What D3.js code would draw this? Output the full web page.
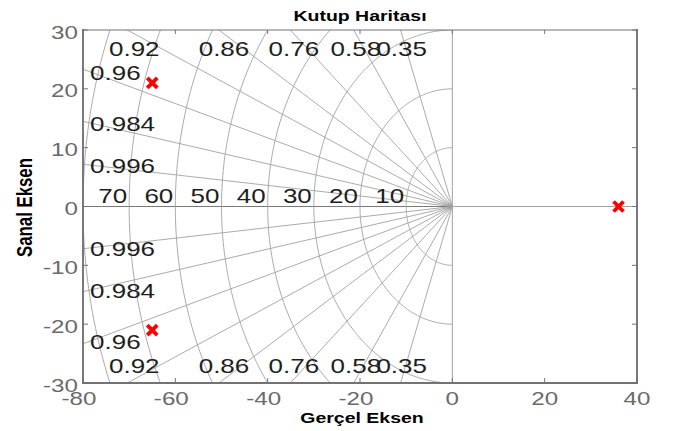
<!DOCTYPE html>
<html>
<head>
<meta charset="utf-8">
<script src="https://cdn.jsdelivr.net/npm/d3@7"></script>
<style>
  html, body { margin: 0; padding: 0; background: #fff; }
  svg { display: block; }
  text { font-family: "Liberation Sans", Arial, Helvetica, sans-serif; }
</style>
</head>
<body>
<svg id="chart" width="674" height="431"></svg>
<script>
// Pole locations of the system (real and imaginary parts)
const poleRe = [-65, -65, 36];
const poleIm = [21, -21, 0];

// Damping ratio rays and natural frequency circles of the s-plane grid
const zetaValues = [0.35, 0.58, 0.76, 0.86, 0.92, 0.96, 0.984, 0.996];
const wnValues = [10, 20, 30, 40, 50, 60, 70, 80];
const wnLabelValues = [10, 20, 30, 40, 50, 60, 70];

// Axis ticks
const xTicks = [-80, -60, -40, -20, 0, 20, 40];
const yTicks = [-30, -20, -10, 0, 10, 20, 30];

const titleText = "Kutup Haritası";
const xLabelText = "Gerçel Eksen";
const yLabelText = "Sanal Eksen";

const plot = { left: 83, right: 637, top: 30, bottom: 383 };
const SX = 1.3; // horizontal stretch applied to glyphs

const svg = d3.select("#chart");
const x = d3.scaleLinear().domain([-80, 40]).range([plot.left, plot.right]);
const y = d3.scaleLinear().domain([-30, 30]).range([plot.bottom, plot.top]);

function label(g, str, px, py, o) {
  o = o || {};
  return g.append("text")
    .attr("transform", `translate(${px},${py}) scale(${o.sx || SX},1)`)
    .attr("text-anchor", o.anchor || "middle")
    .attr("font-size", o.size || 20)
    .attr("font-weight", o.weight || "normal")
    .attr("fill", o.fill || "#1e1e1e")
    .text(str);
}

svg.append("defs").append("clipPath").attr("id", "plotClip")
  .append("rect")
  .attr("x", plot.left).attr("y", plot.top)
  .attr("width", plot.right - plot.left).attr("height", plot.bottom - plot.top);

const grid = svg.append("g").attr("clip-path", "url(#plotClip)");
const gridColor = "#a2a2a2";

// Real and imaginary axes through the origin
grid.append("line")
  .attr("x1", plot.left).attr("x2", plot.right)
  .attr("y1", y(0)).attr("y2", y(0))
  .attr("stroke", gridColor).attr("stroke-width", 1);
grid.append("line")
  .attr("x1", x(0)).attr("x2", x(0))
  .attr("y1", plot.top).attr("y2", plot.bottom)
  .attr("stroke", gridColor).attr("stroke-width", 1);
// zeta = 1 along the negative real axis
grid.append("line")
  .attr("x1", x(-200)).attr("x2", x(0))
  .attr("y1", y(0)).attr("y2", y(0))
  .attr("stroke", "#7a7a7a").attr("stroke-width", 1);

// Constant damping rays
const R = 300;
zetaValues.forEach(z => {
  const s = Math.sqrt(1 - z * z);
  [1, -1].forEach(sign => {
    grid.append("line")
      .attr("x1", x(0)).attr("y1", y(0))
      .attr("x2", x(-z * R)).attr("y2", y(sign * s * R))
      .attr("stroke", gridColor).attr("stroke-width", 0.9);
  });
});

// Constant natural frequency semicircles in the left half-plane
const arcLine = d3.line().x(d => x(d[0])).y(d => y(d[1]));
wnValues.forEach(wn => {
  const pts = d3.range(0, 181).map(i => {
    const a = Math.PI / 2 + (i / 180) * Math.PI;
    return [wn * Math.cos(a), wn * Math.sin(a)];
  });
  grid.append("path").attr("d", arcLine(pts))
    .attr("fill", "none").attr("stroke", gridColor).attr("stroke-width", 0.9);
});

// Damping labels: rays leaving through the top/bottom edge get a label centred
// on the ray just inside that edge, the others a label along the left edge on the ray
const gl = svg.append("g");
zetaValues.forEach(z => {
  const s = Math.sqrt(1 - z * z);
  const slope = s / z;
  const str = String(z);
  if (slope * 80 > 30) {
    const xe = -29.35 / slope;
    label(gl, str, x(xe), plot.top + 25.5);
    label(gl, str, x(xe), plot.bottom - 10);
  } else {
    const xl = x.invert(plot.left + 7);
    const yl = -xl * slope;
    label(gl, str, plot.left + 7, y(yl) + 7.8, { anchor: "start" });
    label(gl, str, plot.left + 7, y(-yl) + 7.8, { anchor: "start" });
  }
});

// Natural frequency labels just above the real axis
wnLabelValues.forEach(wn => {
  label(gl, String(wn), x(-wn) - 2, y(0) - 4, { anchor: "end" });
});

// Axes box and inward ticks
const axisColor = "#737373";
const tickFill = "#6a6a6a";
const box = svg.append("g");
const edge = (x1, y1, x2, y2, w) => box.append("line")
  .attr("x1", x1).attr("y1", y1).attr("x2", x2).attr("y2", y2)
  .attr("stroke", axisColor).attr("stroke-width", w).attr("stroke-linecap", "square");
edge(plot.left, plot.top, plot.right, plot.top, 1.2);
edge(plot.left, plot.bottom, plot.right, plot.bottom, 1.9);
edge(plot.left, plot.top, plot.left, plot.bottom, 1.9);
edge(plot.right, plot.top, plot.right, plot.bottom, 1.9);

const tl = 5;
xTicks.forEach(t => {
  box.append("line").attr("x1", x(t)).attr("x2", x(t))
    .attr("y1", plot.bottom).attr("y2", plot.bottom - tl)
    .attr("stroke", axisColor).attr("stroke-width", 1);
  box.append("line").attr("x1", x(t)).attr("x2", x(t))
    .attr("y1", plot.top).attr("y2", plot.top + tl - 1)
    .attr("stroke", axisColor).attr("stroke-width", 1);
  const shift = t < 0 ? -4 : 0;
  label(box, String(t), x(t) + shift, plot.bottom + 22, { size: 18.6, fill: tickFill });
});
yTicks.forEach(t => {
  box.append("line").attr("x1", plot.left).attr("x2", plot.left + tl)
    .attr("y1", y(t)).attr("y2", y(t))
    .attr("stroke", axisColor).attr("stroke-width", 1);
  box.append("line").attr("x1", plot.right).attr("x2", plot.right - tl)
    .attr("y1", y(t)).attr("y2", y(t))
    .attr("stroke", axisColor).attr("stroke-width", 1);
  label(box, String(t), plot.left - 5, y(t) + 8.5, { anchor: "end", size: 18.6, fill: tickFill });
});

// Pole markers
const ms = 5;
const poles = svg.append("g");
poleRe.forEach((re, i) => {
  const cx = x(re), cy = y(poleIm[i]);
  poles.append("path")
    .attr("d", `M${cx - ms},${cy - ms}L${cx + ms},${cy + ms}M${cx - ms},${cy + ms}L${cx + ms},${cy - ms}`)
    .attr("stroke", "#ff0000").attr("stroke-width", 3.8).attr("fill", "none");
});

// Title and axis labels
label(svg, titleText, (plot.left + plot.right) / 2, 21, { size: 15, weight: "bold", fill: "#000" });
label(svg, xLabelText, 362, 423, { size: 15, weight: "bold", fill: "#000" });
svg.append("text")
  .attr("transform", `translate(32,207.5) rotate(-90) scale(1,${SX})`)
  .attr("text-anchor", "middle")
  .attr("font-size", 16.8)
  .attr("font-weight", "bold")
  .attr("fill", "#000")
  .text(yLabelText);
</script>
</body>
</html>
